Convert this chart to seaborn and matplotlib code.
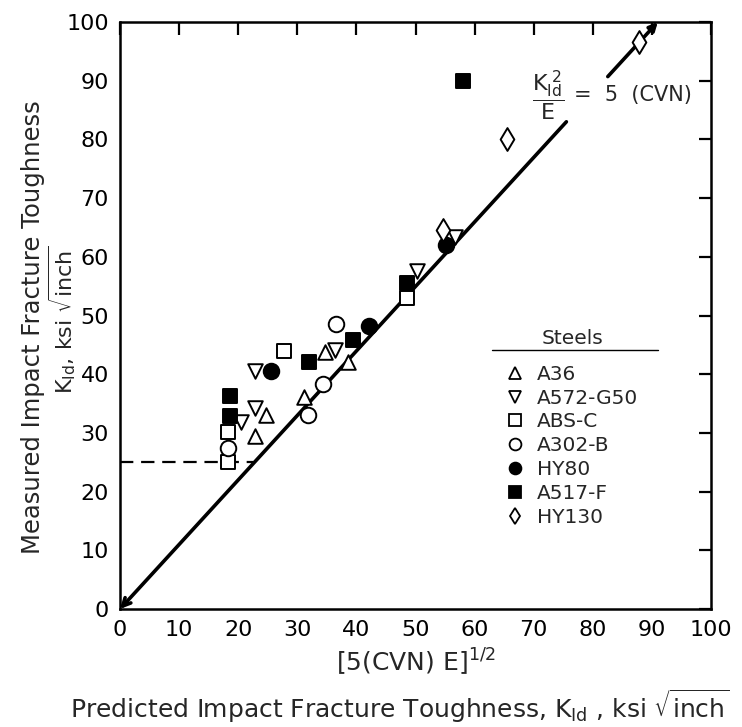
import matplotlib
matplotlib.use("Agg")
import matplotlib.pyplot as plt
import pandas as pd
import seaborn as sns
from matplotlib.lines import Line2D

sns.set_theme(style="white")
plt.rcParams["font.family"] = ["DejaVu Sans"]
plt.rcParams["mathtext.fontset"] = "dejavusans"

# Measured vs. predicted impact fracture toughness, ksi*sqrt(inch)
steels = ["A36", "A572-G50", "ABS-C", "A302-B", "HY80", "A517-F", "HY130"]

a36_pred = [22.9, 24.7, 31.2, 34.7, 38.6]
a36_meas = [29.4, 33.0, 36.2, 43.8, 42.1]

a572_pred = [20.5, 22.9, 22.9, 36.4, 50.2, 56.6]
a572_meas = [31.9, 34.2, 40.6, 44.2, 57.6, 63.3]

absc_pred = [18.2, 18.2, 27.8, 48.5]
absc_meas = [25.0, 30.1, 44.0, 52.9]

a302_pred = [18.2, 31.8, 34.4, 36.6]
a302_meas = [27.5, 33.0, 38.3, 48.5]

hy80_pred = [25.6, 42.1, 55.1]
hy80_meas = [40.6, 48.2, 62.0]

a517_pred = [18.6, 18.6, 32.0, 39.5, 48.5, 58.1]
a517_meas = [32.9, 36.3, 42.0, 45.8, 55.5, 90.0]

hy130_pred = [54.7, 65.4, 87.8]
hy130_meas = [64.6, 80.0, 96.6]

pred_values = [a36_pred, a572_pred, absc_pred, a302_pred, hy80_pred, a517_pred, hy130_pred]
meas_values = [a36_meas, a572_meas, absc_meas, a302_meas, hy80_meas, a517_meas, hy130_meas]

# Correlation line K_Id^2/E = 5(CVN) and the 25 ksi reference level
line_end = (91.0, 100.0)
lower_frac, upper_frac = 0.83, 0.907
ref_level = 25.0
ref_level_end = 22.5

ticks = list(range(0, 101, 10))

rows = []
for name, xs, ys in zip(steels, pred_values, meas_values):
    for x, y in zip(xs, ys):
        rows.append({"steel": name, "predicted": x, "measured": y})
df = pd.DataFrame(rows)

marker_map = {"A36": "^", "A572-G50": "v", "ABS-C": "s", "A302-B": "o",
              "HY80": "o", "A517-F": "s", "HY130": "d"}
face_map = {"A36": "white", "A572-G50": "white", "ABS-C": "white", "A302-B": "white",
            "HY80": "black", "A517-F": "black", "HY130": "white"}
size_map = {"A36": 110, "A572-G50": 110, "ABS-C": 100, "A302-B": 125,
            "HY80": 125, "A517-F": 100, "HY130": 135}

fig = plt.figure(figsize=(7.42, 7.27), dpi=100)
ax = fig.add_axes([120 / 742, 1 - 609 / 727, 591 / 742, 587 / 727])

# correlation line, split around its equation label
x1, y1 = line_end
ax.annotate("", xy=(0, 0), xytext=(x1 * lower_frac, y1 * lower_frac),
            arrowprops=dict(arrowstyle="->", lw=2.6, color="black",
                            shrinkA=0, shrinkB=0, mutation_scale=14))
ax.annotate("", xy=(x1, y1), xytext=(x1 * upper_frac, y1 * upper_frac),
            arrowprops=dict(arrowstyle="-|>", lw=2.6, color="black",
                            shrinkA=0, shrinkB=0, mutation_scale=12),
            annotation_clip=False)

ax.plot([0, ref_level_end], [ref_level, ref_level], color="black", lw=1.6,
        ls=(0, (6, 3.5)))

for name in steels:
    sub = df[df["steel"] == name]
    sns.scatterplot(data=sub, x="predicted", y="measured", ax=ax,
                    marker=marker_map[name], s=size_map[name],
                    facecolor=face_map[name], edgecolor="black",
                    linewidth=1.4, zorder=3, legend=False)

ax.set_xlim(0, 100)
ax.set_ylim(0, 100)
ax.set_xticks(ticks)
ax.set_yticks(ticks)
ax.tick_params(direction="in", length=9, width=1.6, top=True, right=True,
               labelsize=16, pad=8, colors="black")
for sp in ax.spines.values():
    sp.set_linewidth(1.8)
    sp.set_color("black")

ax.set_xlabel(r"[5(CVN) E]$^{1/2}$", fontsize=18, labelpad=5)
ax.set_ylabel("")

# equation label
ax.text(72.5, 87.4, r"$\dfrac{\mathrm{K}_{\mathrm{Id}}^{\ 2}}{\mathrm{E}}$",
        fontsize=16, ha="center", va="center")
ax.text(76.9, 87.6, "=  5  (CVN)", fontsize=15, ha="left", va="center")

# legend
handles = [Line2D([], [], ls="none", marker=marker_map[n], markersize=8.5,
                  markerfacecolor=face_map[n], markeredgecolor="black",
                  markeredgewidth=1.3) for n in steels]
leg = ax.legend(handles, steels, title="Steels", frameon=False,
                loc="upper left", bbox_to_anchor=(497 / 742, 1 - 319 / 727),
                bbox_transform=fig.transFigure, fontsize=14.5, title_fontsize=14.5,
                handlelength=0.8, handletextpad=0.7, labelspacing=0.24,
                borderpad=0.0)
leg._legend_box.sep = 12
fig.add_artist(Line2D([492 / 742, 658 / 742], [1 - 350 / 727, 1 - 350 / 727],
                      color="black", lw=1.0, transform=fig.transFigure))

# axis titles
fig.text(33 / 742, 1 - 327 / 727, "Measured Impact Fracture Toughness",
         rotation=90, ha="center", va="center", fontsize=17.5)
fig.text(62 / 742, 1 - 320 / 727, r"K$_{\mathrm{Id}}$, ksi $\sqrt{\mathrm{inch}}$",
         rotation=90, ha="center", va="center", fontsize=16)
fig.text(400 / 742, 1 - 706 / 727,
         r"Predicted Impact Fracture Toughness, K$_{\mathrm{Id}}$ , ksi $\sqrt{\mathrm{inch}}$",
         ha="center", va="center", fontsize=18)

fig.savefig("out.png", dpi=100)
